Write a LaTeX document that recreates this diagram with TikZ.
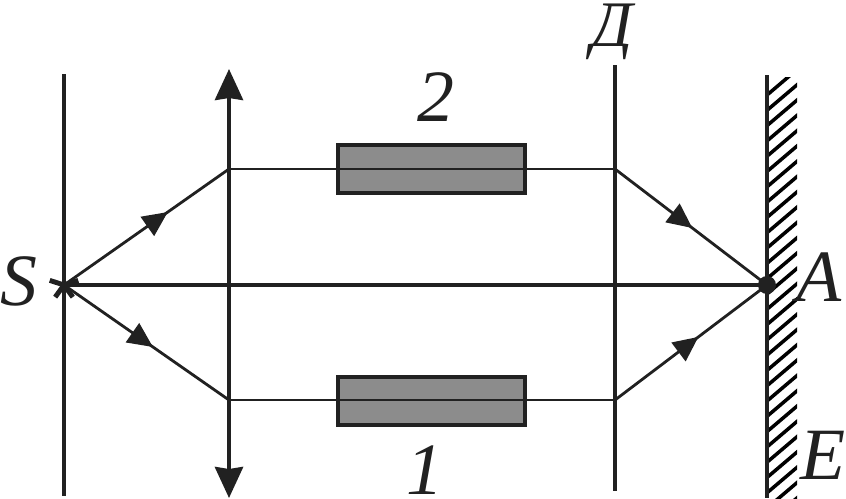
\documentclass[tikz,border=0pt]{standalone}
\usepackage{fontspec}
\setmainfont{Liberation Serif}
\usepackage{tikz}
\usetikzlibrary{arrows.meta,decorations.markings}

\begin{document}
\begin{tikzpicture}[x=0.02cm,y=-0.02cm]

	\tikzset{ink/.style={color=black!87}}
	\tikzset{ray/.style={ink,line width=1.6pt}}
	\tikzset{ray tip/.style={ray,postaction={decorate},decoration={markings,
		mark=at position #1 with {\arrow{Triangle[length=0.5cm,width=0.46cm]}}}}}
	\tikzset{cell/.style={draw=black!87,line width=2.2pt,fill=black!45,
		minimum width=3.74cm,minimum height=0.96cm,inner sep=0pt}}
	\tikzset{letter/.style={ink,font=\fontsize{42}{42}\selectfont\itshape,inner sep=0pt}}
	\tikzset{lens tip/.tip={Stealth[length=0.62cm,width=0.56cm,inset=0.04cm]}}

	\useasboundingbox (0,0) rectangle (846,498);

	% points on the rays
	\coordinate (src) at (64,285);
	\coordinate (lensT) at (229,169);
	\coordinate (lensB) at (229,400);
	\coordinate (plateT) at (615,169);
	\coordinate (plateB) at (615,400);
	\coordinate (pointA) at (767,285);

	% hatched screen
	\begin{scope}
		\clip (767,77) rectangle (797,498);
		\foreach \y in {20,35.3,...,540}
			\draw[line width=2pt,line cap=butt] (760,\y+81) -- (800,\y+47);
	\end{scope}
	\draw[ink,line width=2.4pt] (767,75) -- (767,498);

	% vertical lines
	\draw[ink,line width=1.9pt] (64,74) -- (64,496);
	\draw[ink,line width=2.3pt,lens tip-lens tip] (229,69) -- (229,498);
	\draw[ink,line width=2.6pt] (615,65) -- (615,491);

	% cells
	\node[cell] (cellT) at (431.5,169) {};
	\node[cell] (cellB) at (431.5,401) {};

	% rays
	\draw[ray,line width=1.9pt] (src) -- (pointA);
	\draw[ray,line width=1.5pt] (lensT) -- (plateT);
	\draw[ray,line width=1.5pt] (lensB) -- (plateB);
	\draw[ray tip=0.63] (src) -- (lensT);
	\draw[ray tip=0.54] (src) -- (lensB);
	\draw[ray tip=0.51] (plateT) -- (pointA);
	\draw[ray tip=0.55] (plateB) -- (pointA);

	% source and point
	\foreach \a in {90,162,234,306,18}
		\draw[ink,line width=2.8pt] (src) -- +(\a:15 and -15);
	\fill[ink] (pointA) circle (0.18cm);

	\node[letter] (labS) at (19,281) {S};
	\node[letter] (labA) at (819,277) {A};
	\node[letter] (labE) at (823,455) {E};
	\node[letter] (lab2) at (436,97) {2};
	\node[letter] (lab1) at (425,470) {1};
	\node[letter,font=\fontsize{37}{37}\selectfont\itshape,anchor=base] (labD) at (612,46) {Д};

\end{tikzpicture}
\end{document}
